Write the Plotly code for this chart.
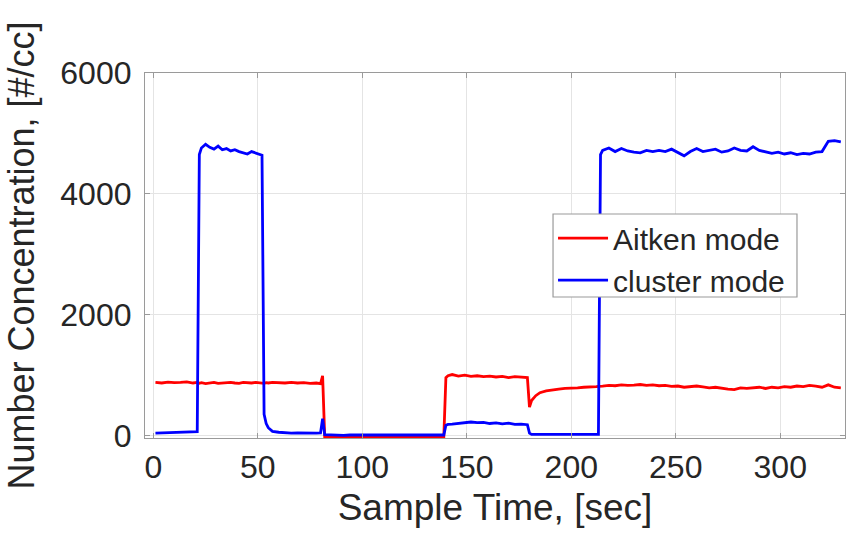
import plotly.graph_objects as go

# Sample time, seconds
time = [1, 4, 7, 10, 13, 16, 19, 21,
        22,
        23, 25, 27, 29, 31, 33, 35, 37, 39, 41, 43, 45, 47, 49, 51,
        52, 53, 54,
        55, 57, 60, 63, 66, 69, 72, 75, 78, 80,
        81,
        82, 85, 88, 91, 94, 97, 100, 103, 106, 109, 112, 115, 118, 121, 124, 127, 130, 133, 136, 139,
        140,
        141, 143, 146, 149, 152, 155, 158, 161, 164, 167, 170, 173, 176, 179,
        180,
        181, 183, 185, 188, 191, 194, 197, 200, 203, 206, 209, 212, 213,
        214,
        215, 218, 221, 224, 227, 230, 233, 236, 239, 242, 245, 248, 251, 254, 257, 260, 263, 266, 269,
        272, 275, 278, 281, 284, 287, 290, 293, 296, 299, 302, 305, 308, 311, 314, 317, 320, 323, 326, 329]

aitken_mode = [880, 870, 885, 875, 880, 890, 870, 880,
               865,
               875, 860, 870, 880, 865, 870, 875, 880, 870, 865, 880, 875, 870, 880, 875,
               870, 865, 875,
               870, 880, 875, 870, 880, 870, 875, 865, 870, 860,
               990,
               -20, -25, -25, -30, -25, -25, -30, -25, -25, -20, -25, -30, -25, -25, -30, -25, -25, -20, -25, -25,
               960,
               990, 1010, 985, 1000, 980, 990, 975, 985, 970, 980, 960, 975, 965, 960,
               470,
               580, 660, 710, 740, 760, 770, 780, 780, 790, 800, 800, 810, 815,
               815,
               820, 830, 825, 840, 830, 835, 845, 830, 840, 825, 830, 815, 820, 800, 810, 820, 805, 790, 800,
               780, 770, 760, 790, 780, 790, 800, 780, 800, 790, 810, 800, 820, 810, 830, 820, 800, 840, 800, 790]

cluster_mode = [40, 45, 45, 50, 55, 55, 65, 65,
                4650,
                4760, 4820, 4770, 4740, 4790, 4730, 4750, 4710, 4730, 4700, 4680, 4660, 4700, 4680, 4650,
                4640, 350, 200,
                130, 70, 55, 45, 40, 45, 40, 45, 40, 45,
                280,
                15, 10, 10, 5, 10, 10, 15, 10, 5, 10, 10, 10, 15, 10, 10, 5, 10, 10, 10, 10,
                170,
                185, 190, 200, 210, 225, 215, 220, 200, 210, 195, 205, 185, 190, 180,
                40,
                20, 20, 15, 20, 15, 20, 20, 15, 20, 20, 15, 20, 20,
                4650,
                4720, 4760, 4700, 4750, 4710, 4690, 4680, 4720, 4700, 4720, 4700, 4740, 4690, 4630, 4700, 4750, 4700, 4720, 4740,
                4690, 4710, 4760, 4720, 4710, 4780, 4720, 4700, 4670, 4690, 4660, 4680, 4650, 4670, 4660, 4690, 4700, 4870, 4880, 4860]

x_ticks = [0, 50, 100, 150, 200, 250, 300]
y_ticks = [0, 2000, 4000, 6000]

assert len(time) == len(aitken_mode) == len(cluster_mode)

FONT = "Liberation Sans, Arial"
FRAME = "#9a9a9a"

fig = go.Figure()
fig.add_trace(go.Scatter(x=time, y=aitken_mode, mode="lines", name="Aitken mode",
                         line=dict(color="#ff0000", width=2.8)))
fig.add_trace(go.Scatter(x=time, y=cluster_mode, mode="lines", name="cluster mode",
                         line=dict(color="#0000ff", width=2.8)))

axis_common = dict(
    showline=True, linecolor=FRAME, linewidth=1.2, mirror="allticks",
    ticks="inside", ticklen=5, tickcolor=FRAME,
    showgrid=True, gridcolor="#e4e4e4", gridwidth=1,
    zeroline=False, automargin=False,
    tickfont=dict(family=FONT, size=32, color="#262626"),
)

fig.update_xaxes(range=[-4, 331], tickvals=x_ticks,
                 title=dict(text="Sample Time, [sec]", standoff=10,
                            font=dict(family=FONT, size=37, color="#262626")),
                 **axis_common)
fig.update_yaxes(range=[-40, 6000], tickvals=y_ticks, ticklabelstandoff=6,
                 title=dict(text="Number Concentration, [#/cc]", standoff=14,
                            font=dict(family=FONT, size=36, color="#262626")),
                 **axis_common)

# legend frame (box drawn as a shape so its size matches the original)
fig.add_shape(type="rect", xref="paper", yref="paper",
              x0=0.5829, x1=0.9314, y0=0.3863, y1=0.6137,
              fillcolor="white", line=dict(color=FRAME, width=1.2), layer="above")

fig.update_layout(
    width=846, height=543,
    margin=dict(l=145, r=1, t=73, b=105),
    paper_bgcolor="white", plot_bgcolor="white",
    showlegend=True,
    legend=dict(x=0.5829, y=0.6187, xanchor="left", yanchor="top",
                bgcolor="rgba(0,0,0,0)", borderwidth=0,
                font=dict(family=FONT, size=30, color="#262626"),
                itemwidth=50, tracegroupgap=0),
)

fig.write_html("out.html", config={"displayModeBar": False},
               post_script="document.body.style.margin='0';")
